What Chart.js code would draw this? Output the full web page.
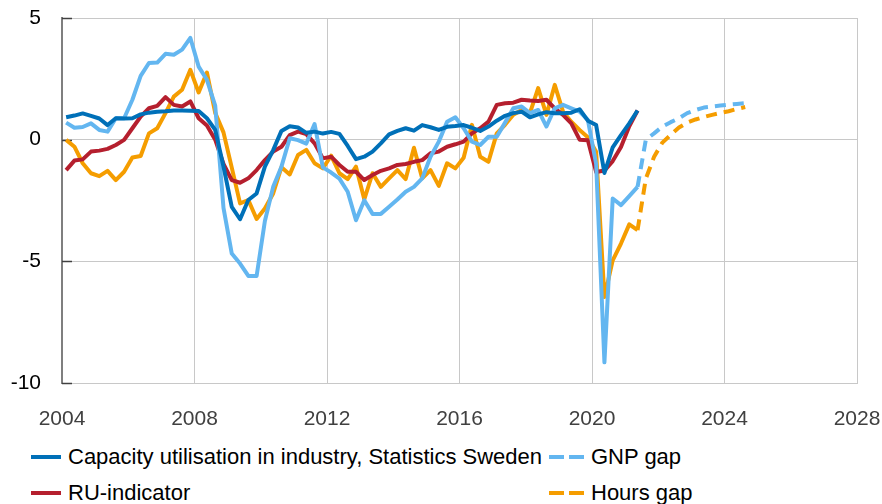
<!DOCTYPE html>
<html>
<head>
<meta charset="utf-8">
<script src="https://cdn.jsdelivr.net/npm/chart.js@4.4.0/dist/chart.umd.min.js"></script>
<style>
  body { margin: 0; background: #fff; }
  #wrap { position: relative; width: 882px; height: 504px; font-family: "Liberation Sans", Arial, sans-serif; }
  #chart { position: absolute; left: 0; top: 0; }
  .item { position: absolute; height: 24px; display: flex; align-items: center; font-size: 22px; color: #000; white-space: nowrap; }
  .swatch { height: 4px; margin-right: 7px; }
</style>
</head>
<body>
<div id="wrap">
  <canvas id="chart" width="882" height="440"></canvas>
  <div class="item" style="left:31px; top:445px;"><span class="swatch" style="width:30px; background:#0070B8"></span>Capacity utilisation in industry, Statistics Sweden</div>
  <div class="item" style="left:549px; top:445px;"><span class="swatch" style="width:35px; background:repeating-linear-gradient(to right,#63B6F0 0 15px,transparent 15px 20px)"></span>GNP gap</div>
  <div class="item" style="left:31px; top:481px;"><span class="swatch" style="width:30px; background:#B51F2E"></span>RU-indicator</div>
  <div class="item" style="left:549px; top:481px;"><span class="swatch" style="width:35px; background:repeating-linear-gradient(to right,#F59D00 0 15px,transparent 15px 20px)"></span>Hours gap</div>
</div>
<script>
// quarterly series, first value is 2004 Q1
var firstYear = 2004;

var capacity = [
  0.92, 0.99, 1.08, 0.98, 0.87, 0.60, 0.88, 0.87, 0.88, 1.04,
  1.11, 1.15, 1.17, 1.20, 1.20, 1.19, 1.18, 0.88, 0.40, -1.10,
  -2.76, -3.27, -2.48, -2.21, -1.11, -0.43, 0.36, 0.55, 0.50, 0.28,
  0.33, 0.25, 0.32, 0.24, -0.26, -0.80, -0.70, -0.49, -0.15, 0.22,
  0.36, 0.47, 0.37, 0.60, 0.51, 0.40, 0.53, 0.56, 0.60, 0.49,
  0.36, 0.54, 0.78, 0.98, 1.09, 1.15, 0.92, 1.04, 1.13, 1.09,
  1.09, 1.11, 1.25, 0.78, 0.60, -1.37, -0.32, 0.19, 0.67, 1.20
];

var gnpGap = [
  0.70, 0.49, 0.52, 0.67, 0.40, 0.33, 0.88, 0.88, 1.64, 2.62,
  3.15, 3.17, 3.53, 3.49, 3.70, 4.18, 3.00, 2.46, 1.40, -2.80,
  -4.68, -5.09, -5.60, -5.60, -3.34, -1.94, -1.11, 0.06, -0.02, -0.16,
  0.64, -1.14, -1.35, -1.60, -2.14, -3.31, -2.49, -3.05, -3.05, -2.76,
  -2.46, -2.14, -1.94, -1.59, -0.70, -0.08, 0.74, 0.92, 0.47, -0.08,
  -0.22, 0.12, 0.12, 0.70, 1.29, 1.36, 1.09, 1.22, 0.54, 1.29,
  1.43, 1.29, 1.15, 0.81, -1.00, -9.15, -2.42, -2.69, -2.32, -1.94
];

var ruIndicator = [
  -1.25, -0.86, -0.81, -0.49, -0.45, -0.38, -0.22, -0.01, 0.47, 0.95,
  1.29, 1.39, 1.75, 1.43, 1.36, 1.57, 0.88, 0.58, 0.00, -1.00,
  -1.66, -1.77, -1.59, -1.25, -0.84, -0.49, -0.29, 0.19, 0.33, 0.23,
  -0.15, -0.77, -0.70, -1.04, -1.32, -1.32, -1.66, -1.45, -1.28, -1.18,
  -1.04, -1.00, -0.91, -0.84, -0.56, -0.49, -0.29, -0.19, -0.08, 0.26,
  0.47, 0.74, 1.43, 1.50, 1.52, 1.64, 1.61, 1.59, 1.64, 1.29,
  1.02, 0.67, 0.00, -0.02, -1.33, -1.27, -0.88, -0.30, 0.55, 1.20
];

var hoursGap = [
  -0.01, -0.29, -0.97, -1.38, -1.50, -1.28, -1.66, -1.32, -0.73, -0.67,
  0.26, 0.47, 1.09, 1.77, 2.05, 2.87, 1.94, 2.76, 1.10, 0.30,
  -1.15, -2.62, -2.48, -3.26, -2.83, -2.21, -1.13, -1.43, -0.63, -0.42,
  -0.97, -1.18, -0.66, -1.38, -1.62, -1.11, -2.45, -1.38, -1.94, -1.59,
  -1.25, -1.62, -0.33, -1.59, -1.25, -1.90, -0.97, -1.18, -0.74, 0.61,
  -0.70, -0.91, 0.26, 0.61, 1.02, 1.22, 1.09, 2.12, 1.02, 2.25,
  1.15, 0.74, 0.40, 0.10, -0.50, -6.47, -4.96, -4.27, -3.48, -3.72
];

// forecasts start at the last outcome quarter (2021 Q2)
var forecastStart = 69;
var gnpGapForecast = [-1.94, 0.00, 0.26, 0.54, 0.72, 0.88, 1.09, 1.22, 1.32, 1.36, 1.40, 1.44, 1.47, 1.50];
var hoursGapForecast = [-3.72, -1.60, -0.70, -0.12, 0.20, 0.50, 0.70, 0.83, 0.93, 1.02, 1.10, 1.17, 1.26, 1.34];

var xTicks = [2004, 2008, 2012, 2016, 2020, 2024, 2028];
var yTicks = [5, 0, -5, -10];

// place each quarter in the middle of its span
function toPoints(values, offset) {
  return values.map(function(v, i) {
    return { x: firstYear + 0.125 + (i + offset) * 0.25, y: v };
  });
}

function line(data, color, dashed) {
  return {
    data: data,
    borderColor: color,
    borderWidth: 4,
    borderDash: dashed ? [11, 7] : [],
    borderJoinStyle: 'round',
    pointRadius: 0,
    tension: 0,
    fill: false
  };
}

// short ticks on the inside of the y axis
var innerTicks = {
  id: 'innerTicks',
  beforeDatasetsDraw: function(chart) {
    var ctx = chart.ctx;
    var y = chart.scales.y;
    var left = chart.chartArea.left;
    ctx.save();
    ctx.strokeStyle = '#404040';
    ctx.lineWidth = 1.5;
    yTicks.forEach(function(t) {
      var py = Math.round(y.getPixelForValue(t)) + 0.5;
      ctx.beginPath();
      ctx.moveTo(left, py);
      ctx.lineTo(left + 10, py);
      ctx.stroke();
    });
    ctx.restore();
  }
};

var chart = new Chart(document.getElementById('chart'), {
  type: 'line',
  data: {
    datasets: [
      line(toPoints(capacity, 0), '#0070B8', false),
      line(toPoints(gnpGap, 0), '#63B6F0', false),
      line(toPoints(ruIndicator, 0), '#B51F2E', false),
      line(toPoints(hoursGap, 0), '#F59D00', false),
      line(toPoints(gnpGapForecast, forecastStart), '#63B6F0', true),
      line(toPoints(hoursGapForecast, forecastStart), '#F59D00', true)
    ]
  },
  options: {
    responsive: false,
    animation: false,
    devicePixelRatio: 1,
    layout: { padding: { top: 18, right: 25, bottom: 0, left: 0 } },
    plugins: { legend: { display: false }, tooltip: { enabled: false } },
    scales: {
      x: {
        type: 'linear',
        min: 2004,
        max: 2028,
        afterBuildTicks: function(scale) {
          scale.ticks = xTicks.map(function(v) { return { value: v }; });
        },
        afterFit: function(scale) {
          scale.height = 57;
          scale.paddingLeft = 0;
          scale.paddingRight = 0;
        },
        grid: { color: '#C8C8C8', lineWidth: 1, drawTicks: false },
        border: { color: '#C8C8C8' },
        ticks: {
          padding: 24,
          color: '#404040',
          font: { family: 'Liberation Sans', size: 21 },
          callback: function(v) { return String(v); }
        }
      },
      y: {
        min: -10,
        max: 5,
        afterBuildTicks: function(scale) {
          scale.ticks = yTicks.map(function(v) { return { value: v }; });
        },
        afterFit: function(scale) {
          scale.width = 62;
          scale.paddingTop = 0;
          scale.paddingBottom = 0;
        },
        grid: { color: '#C8C8C8', lineWidth: 1, drawTicks: false },
        border: { color: '#7F7F7F', width: 2 },
        ticks: {
          padding: 21,
          color: '#000',
          font: { family: 'Liberation Sans', size: 21 }
        }
      }
    }
  },
  plugins: [innerTicks]
});
</script>
</body>
</html>
